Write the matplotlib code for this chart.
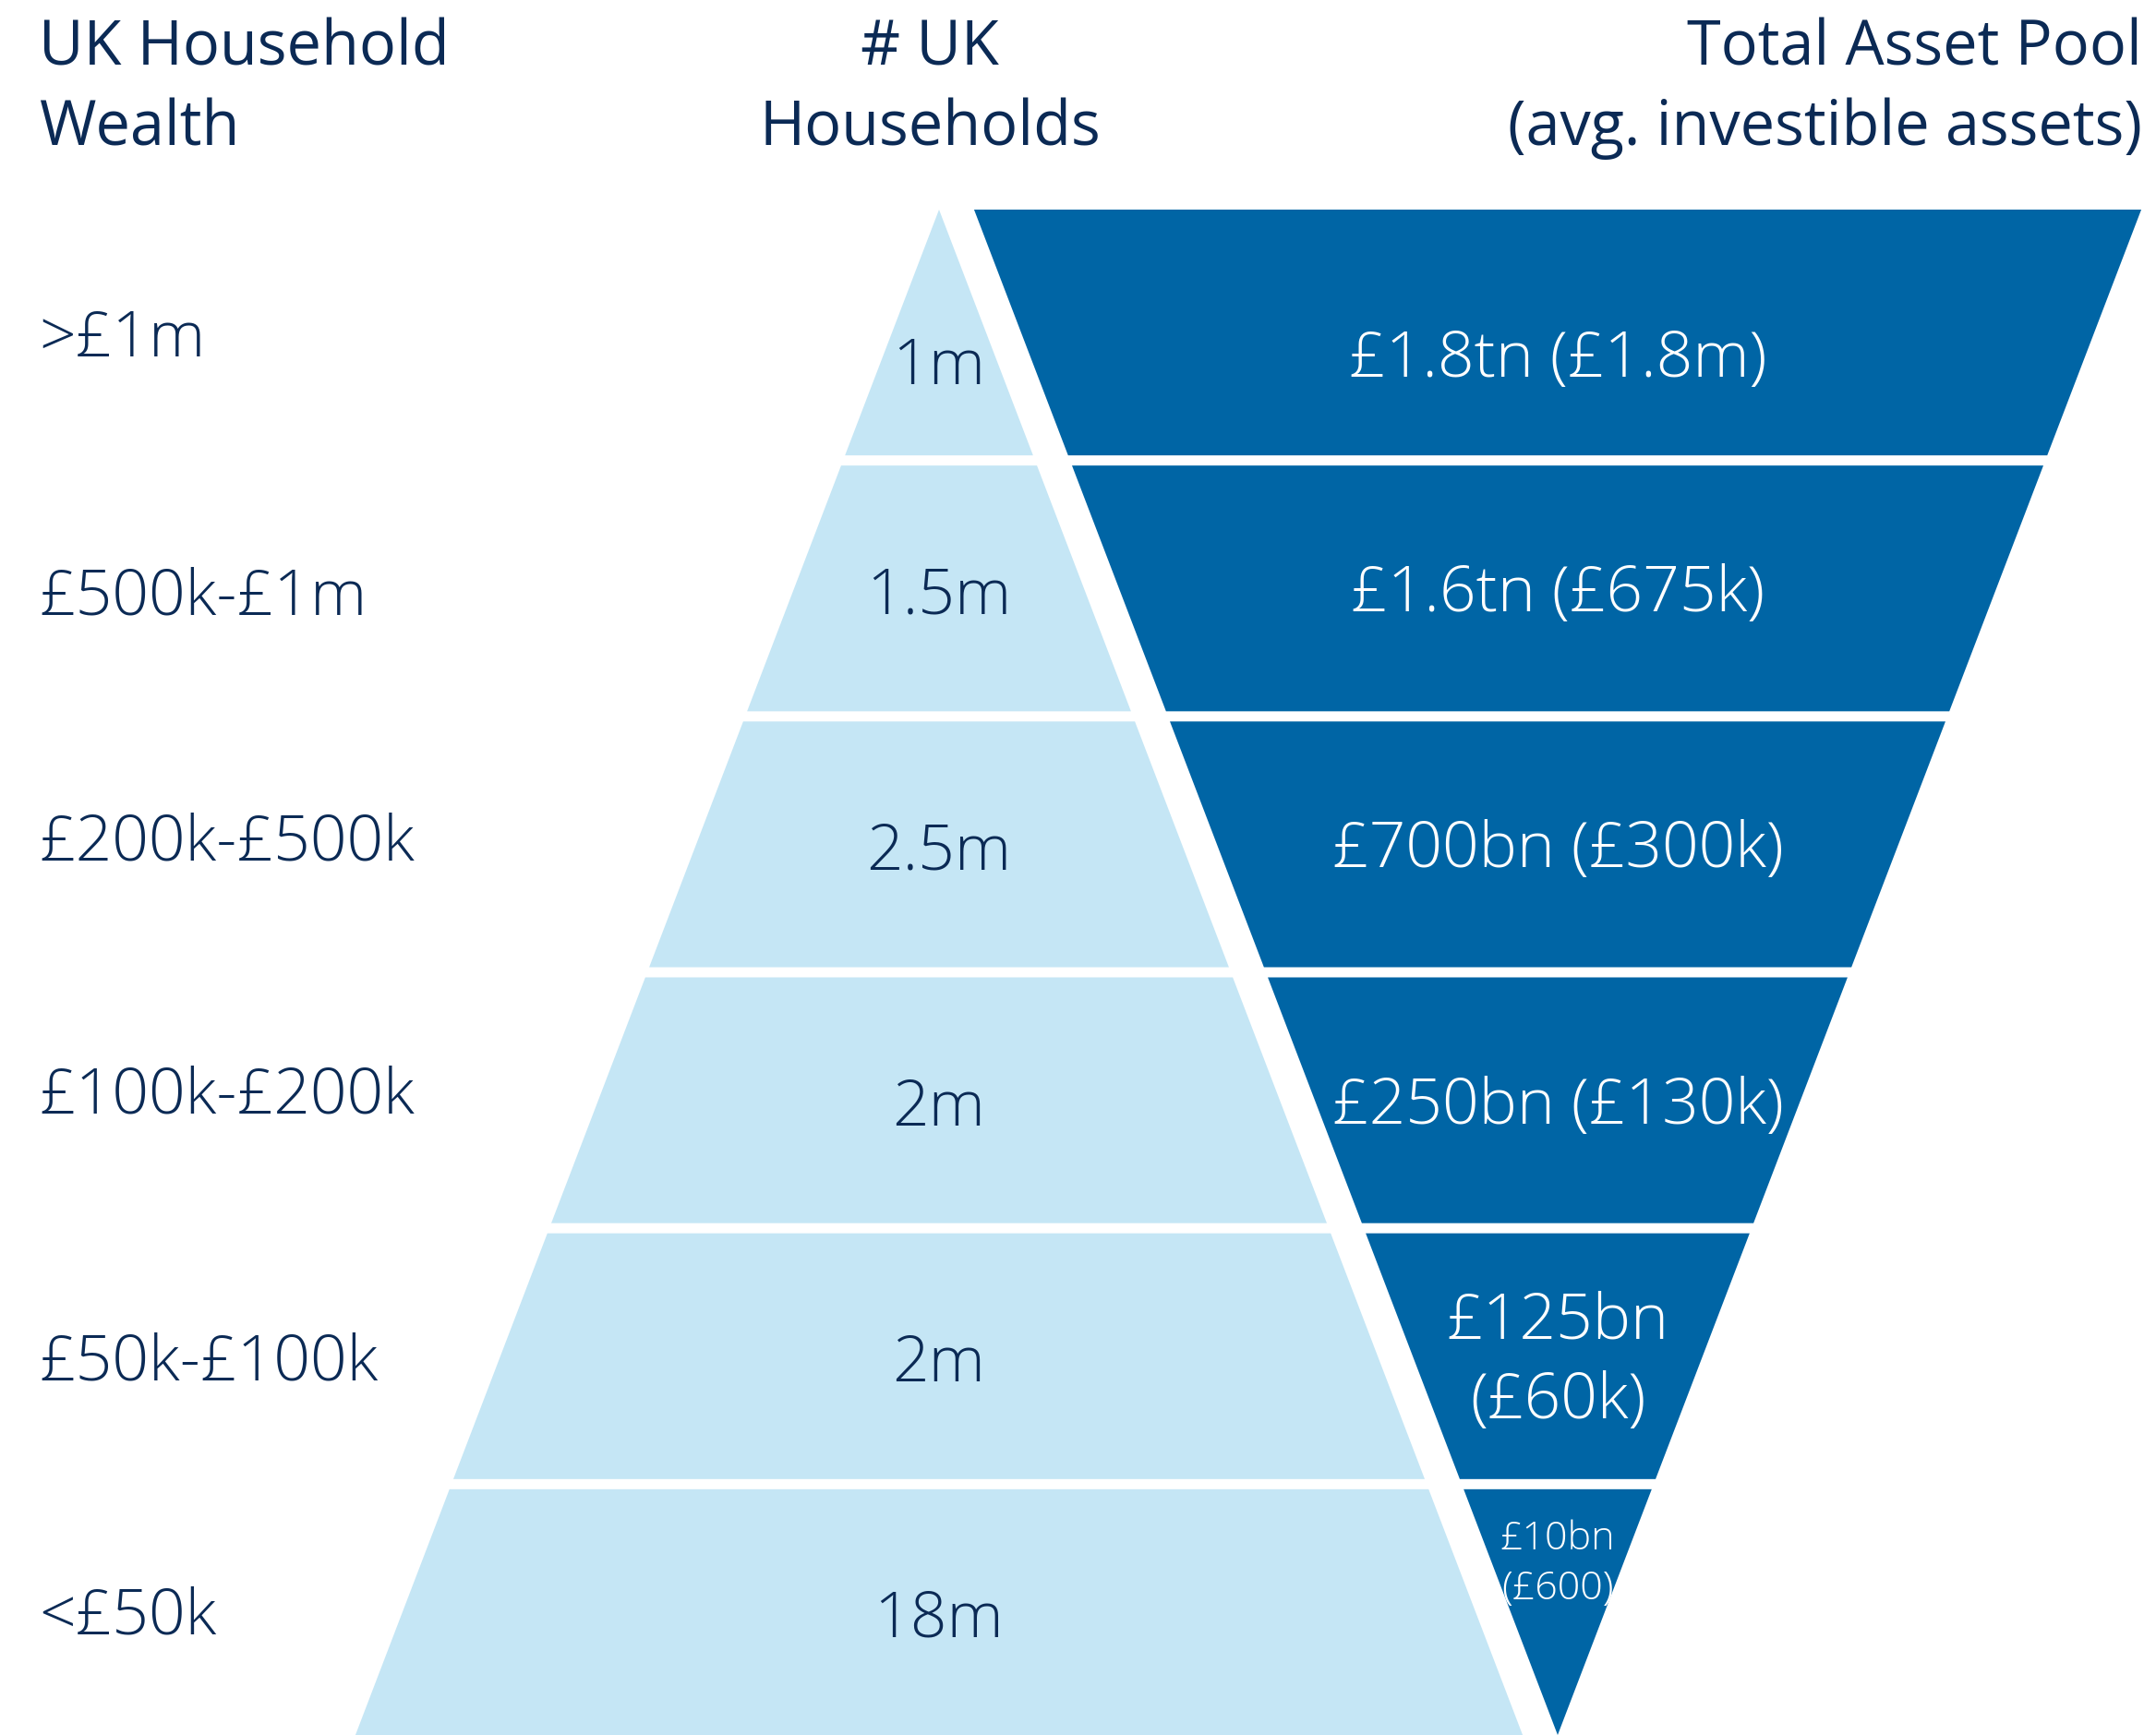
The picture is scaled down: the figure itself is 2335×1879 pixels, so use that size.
import matplotlib.pyplot as plt
from matplotlib.patches import Polygon

# Data
wealth_bands = [">£1m", "£500k-£1m", "£200k-£500k", "£100k-£200k", "£50k-£100k", "<£50k"]
households = ["1m", "1.5m", "2.5m", "2m", "2m", "18m"]
asset_pool = ["£1.8tn (£1.8m)", "£1.6tn (£675k)", "£700bn (£300k)",
              "£250bn (£130k)", "£125bn\n(£60k)", "£10bn\n(£600)"]
headers = ["UK Household\nWealth", "# UK\nHouseholds", "Total Asset Pool\n(avg. investible assets)"]

LIGHT = "#C5E6F5"
DARK = "#0065A5"
NAVY = "#0B2A55"

plt.rcParams["font.family"] = ["Open Sans Light", "Open Sans", "DejaVu Sans"]

W, H = 2335, 1879
fig = plt.figure(figsize=(W / 100, H / 100), dpi=100)
ax = fig.add_axes([0, 0, 1, 1])
ax.set_xlim(0, W)
ax.set_ylim(H, 0)
ax.axis("off")

# funnel geometry (pixel space)
top, bottom = 227, H
gap = 11
n = len(wealth_bands)
band_h = (bottom - top - gap * (n - 1)) / n
k = 0.3826
cx_light, cx_dark = 1017, 1687
FS = 50
label_off = [26, 28, 17, 14, 26, 24]   # baseline offset of left labels

for i in range(n):
    yt = top + i * (band_h + gap)
    yb = yt + band_h
    # light pyramid piece
    hw_t, hw_b = k * (yt - top), k * (yb - top)
    ax.add_patch(Polygon([(cx_light - hw_t, yt), (cx_light + hw_t, yt),
                          (cx_light + hw_b, yb), (cx_light - hw_b, yb)],
                         closed=True, facecolor=LIGHT, edgecolor="none"))
    # dark inverted piece
    dw_t, dw_b = k * (bottom - yt), k * (bottom - yb)
    ax.add_patch(Polygon([(cx_dark - dw_t, yt), (cx_dark + dw_t, yt),
                          (cx_dark + dw_b, yb), (cx_dark - dw_b, yb)],
                         closed=True, facecolor=DARK, edgecolor="none"))

    yc = (yt + yb) / 2
    ax.text(42, yc + label_off[i], wealth_bands[i], fontsize=FS, color=NAVY,
            ha="left", va="baseline", fontweight="light")
    y_num = yc + 56 if i == 0 else yc + 27
    ax.text(cx_light, y_num, households[i], fontsize=FS, color=NAVY,
            ha="center", va="baseline", fontweight="light")
    if i == n - 1:
        ax.text(cx_dark, 1732, asset_pool[i], fontsize=31, color="white",
                ha="center", va="baseline", fontweight="light", linespacing=1.34)
    elif "\n" in asset_pool[i]:
        ax.text(cx_dark, yc + 67, asset_pool[i], fontsize=FS, color="white",
                ha="center", va="baseline", fontweight="light", linespacing=1.35)
    else:
        y_a = yc + 48 if i == 0 else yc + 25
        ax.text(cx_dark, y_a, asset_pool[i], fontsize=FS, color="white",
                ha="center", va="baseline", fontweight="light")

# headers
ax.text(42, 157, headers[0], fontsize=48, color=NAVY, ha="left", va="baseline",
        linespacing=1.37)
ax.text(1007, 157, headers[1], fontsize=48, color=NAVY, ha="center", va="baseline",
        multialignment="center", linespacing=1.37)
ax.text(2320, 157, headers[2], fontsize=48, color=NAVY, ha="right", va="baseline",
        multialignment="right", linespacing=1.37)

plt.savefig("out.png", dpi=100)
plt.close()
